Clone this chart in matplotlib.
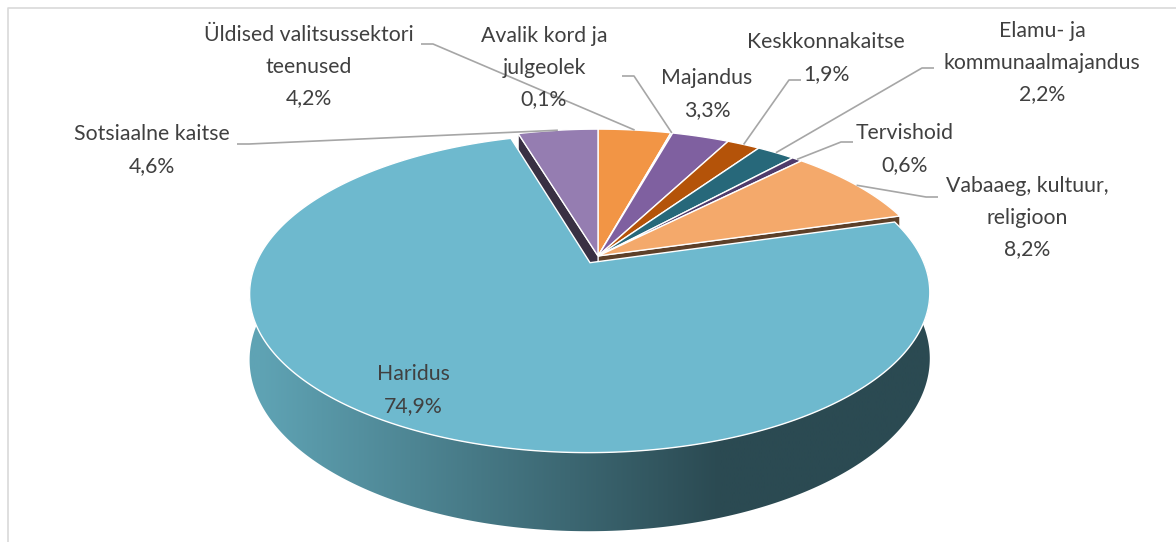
import numpy as np
import matplotlib.pyplot as plt
from matplotlib.patches import Polygon
import matplotlib.colors as mcolors

# slices, clockwise from 12 o'clock
names = ["Üldised valitsussektori\nteenused", "Avalik kord ja\njulgeolek", "Majandus",
         "Keskkonnakaitse", "Elamu- ja\nkommunaalmajandus", "Tervishoid",
         "Vabaaeg, kultuur,\nreligioon", "Haridus", "Sotsiaalne kaitse"]
shares = [4.2, 0.1, 3.3, 1.9, 2.2, 0.6, 8.2, 74.9, 4.6]
colors = ["#F29545", "#4BACC6", "#7F60A0", "#B45309", "#27687A", "#4F3B6B",
          "#F4A96B", "#6EB9CE", "#957DB1"]
explode = [0, 0, 0, 0, 0, 0, 0, 0.05, 0]

# label layout (pixel coords) and where the leader line starts
label_xy = [(309, 67), (544, 68), (707, 94), (826, 58), (1042, 63),
            (905, 149), (1027, 218), (413, 390), (152, 150)]
leader_from = [(421, 44), (622, 76), None, (801, 80), (934, 68),
               (853, 142), (938, 197), None, (237, 144)]

# 3d pie projection
CX, CY = 598, 256
SX, SY = 331, 151
K = 0.19
DEPTH = 63


def proj(u, v, z=0.0):
    w = 1 + K * v
    return CX + SX * u / w, CY - SY * v / w + DEPTH * z / w


def darker(c, f):
    r, g, b = mcolors.to_rgb(c)
    return (r * f, g * f, b * f)


fig = plt.figure(figsize=(11.76, 5.42), dpi=100)
ax = fig.add_axes([0, 0, 1, 1])
ax.set_xlim(0, 1176)
ax.set_ylim(542, 0)
ax.axis("off")

# chart frame (right and bottom edges fall outside the crop)
ax.plot([7.5, 7.5, 1300], [700, 7.5, 7.5], color="#D9D9D9", lw=1.2)

cum = np.concatenate([[0], np.cumsum(shares)])
starts = 90 - cum[:-1] * 3.6
ends = 90 - cum[1:] * 3.6

geo = []
for i in range(len(shares)):
    mid = np.radians((starts[i] + ends[i]) / 2)
    du, dv = explode[i] * np.cos(mid), explode[i] * np.sin(mid)
    n = max(4, int(abs(starts[i] - ends[i]) * 3))
    th = np.radians(np.linspace(starts[i], ends[i], n))
    geo.append((du, dv, th))

big = int(np.argmax(explode))
nsl = len(shares)

# outer wall of the exploded slice (front half), shaded left to right
du, dv, th = geo[big]
front = th[np.sin(th) <= 0.05]
top = [proj(du + np.cos(a), dv + np.sin(a)) for a in front]
bot = [proj(du + np.cos(a), dv + np.sin(a), 1) for a in front[::-1]]
wall = Polygon(top + bot, closed=True, facecolor="none", edgecolor="none")
ax.add_patch(wall)
light, dark = np.array(mcolors.to_rgb("#5FA3B4")), np.array(mcolors.to_rgb("#2B4A52"))
xs = np.linspace(0, 1176, 600)
t = np.clip((xs - 260) / (720 - 260), 0, 1)[None, :, None]
grad = light * (1 - t) + dark * t
im = ax.imshow(grad, extent=[0, 1176, 542, 0], aspect="auto", interpolation="bilinear")
im.set_clip_path(wall)

# radial walls exposed next to the exploded slice
for i in range(nsl):
    if explode[i] > 0:
        continue
    du, dv, th = geo[i]
    edges = []
    if explode[(i + 1) % nsl] > 0:
        edges.append(th[-1])
    if explode[i - 1] > 0:
        edges.append(th[0])
    for a in edges:
        pts = [proj(du, dv), proj(du + np.cos(a), dv + np.sin(a)),
               proj(du + np.cos(a), dv + np.sin(a), 1), proj(du, dv, 1)]
        ax.add_patch(Polygon(pts, closed=True, facecolor=darker(colors[i], 0.38),
                             edgecolor="white", lw=0.8))

# top faces, back slices first, exploded slice last
order = [i for i in range(nsl) if i != big] + [big]
for i in order:
    du, dv, th = geo[i]
    pts = [proj(du, dv)] + [proj(du + np.cos(a), dv + np.sin(a)) for a in th]
    ax.add_patch(Polygon(pts, closed=True, facecolor=colors[i],
                         edgecolor="white", lw=1.0))

ax.set_xlim(0, 1176)
ax.set_ylim(542, 0)

# labels and leader lines
for i in range(nsl):
    pct = f"{shares[i]:.1f}".replace(".", ",") + "%"
    ax.text(label_xy[i][0], label_xy[i][1], names[i] + "\n" + pct,
            ha="center", va="center", fontsize=15.3, family="Lato",
            color="#404040", linespacing=1.72)
    if leader_from[i] is None:
        continue
    du, dv, th = geo[i]
    mid = np.radians((starts[i] + ends[i]) / 2)
    px, py = proj(du + np.cos(mid), dv + np.sin(mid))
    sx, sy = leader_from[i]
    step = 12 if px > sx else -12
    ax.plot([sx, sx + step, px], [sy, sy, py], color="#A6A6A6", lw=1.2,
            solid_capstyle="butt")

fig.savefig("out.png", dpi=100)
